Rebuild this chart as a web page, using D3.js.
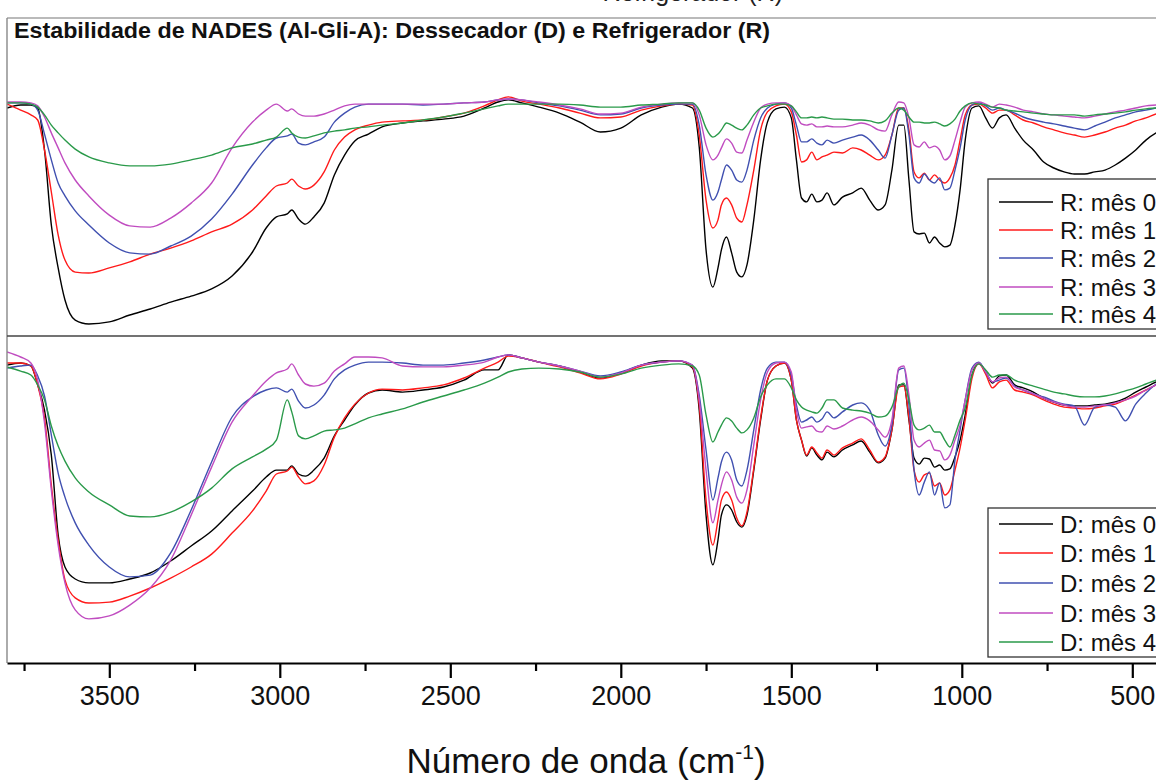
<!DOCTYPE html>
<html><head><meta charset="utf-8">
<script src="https://cdn.jsdelivr.net/npm/d3@7"></script>
<style>body{margin:0;background:#fff}svg{display:block}</style>
</head><body>
<svg id="c" width="1156" height="780"></svg>
<script>
// Wavenumber grid (cm-1)
const wavenumbers = [3800,3760,3730,3710,3690,3670,3650,3630,3600,3560,
 3500,3440,3380,3320,3260,3200,3140,3080,3040,3010,
 2978,2965,2945,2925,2900,2870,2840,2810,2780,2740,
 2700,2640,2580,2520,2460,2400,2360,2330,2290,2240,
 2180,2120,2060,2000,1940,1880,1830,1790,1770,1750,
 1730,1715,1705,1690,1675,1660,1645,1630,1610,1590,
 1570,1545,1520,1500,1485,1470,1455,1440,1425,1410,
 1395,1375,1350,1320,1295,1270,1245,1225,1205,1185,
 1170,1155,1140,1125,1110,1095,1080,1065,1050,1035,
 1020,1005,990,970,950,930,910,890,870,845,
 820,790,760,730,700,670,640,610,580,550,
 520,490,460,430,400];

// Refrigerador (top panel), transmittance (arb. %)
const R0 = [76,77,77,76,62,37,22.7,12,5.3,4,
 4.7,7,9,11.3,13.3,15.7,20,28,36,39.7,
 40.7,42,39,37.3,39.7,44.3,53.7,60.3,65,67.3,
 69.7,71,71.7,72.3,73.3,76,78,78.7,77.7,76.3,
 74.3,71.3,68,69.3,73.7,76.3,77.3,76,63,28.7,
 16.3,22.7,28.7,33,27.7,21.3,19.7,23.7,38.7,58.7,
 71.3,75.7,76.3,72.7,58.7,46,44.7,47.3,44.7,45.3,
 47.7,43.7,46.3,47.7,49.3,45.3,42,43.7,55.3,70.3,
 70.3,52,34.7,34,34.3,31,33,31,29.7,30.3,
 37,48.7,65.3,76,76.7,72.7,69.3,72.7,73.7,69.3,
 65.3,62,58,56,54.7,54,54,54.7,55.3,57,
 59.3,62,65.3,67.7,69.3];
const R1 = [77.3,75.3,73.7,72,62,48,33.7,25.3,21.3,21,
 22.7,24.7,27.3,29.3,31.7,34.7,37.3,42,46.7,50,
 51,52.3,50,49,50.3,54.7,62,66.3,68.7,70.3,
 71.3,71.7,72,73,74.3,76.7,78.7,79.7,78.3,77.3,
 76,74.3,72.7,73,75.3,76.7,77.3,77,67,45.3,
 36,38.7,43.7,46,43.7,39.3,38,43.7,55.3,68.7,
 74.7,76.7,77.3,74.7,67,58,58.7,61.3,58.7,59.7,
 60.3,61.3,61,62.7,62,60.3,58.7,60.3,67,76,
 76,68.7,54.7,52.7,54.3,52,53.7,52,51,52.7,
 57,65.3,73.7,77,77.3,76,74.3,75.3,75.3,73.7,
 72,71,69.7,68.7,67.7,67,66.3,67,68,69.3,
 70.3,71.7,72.7,74,75];
const R2 = [77.7,77.7,77.3,75.3,67.3,58.7,51,46.7,41.7,37,
 31,27.7,27.3,30,33.3,39,47.3,57,62.7,66,
 66.7,67.3,64.3,63.7,64.7,66.3,71.3,74.3,76.3,77.3,
 77.3,77.3,77,77.3,77.7,78,78.7,79,78.7,77.7,
 76.7,75.3,73.7,74,76,77,77.3,77.3,70.3,53.7,
 45.3,48,52,57,55.3,52,51.3,55.3,65.3,72.7,
 76,77.3,77.7,76,70.3,64.7,64.7,65.7,64.3,63.7,
 65.3,64.3,65.3,66.3,67,65.3,62,59.3,67,75.3,
 76,67,52.7,51,54,52,51,52.7,48.7,49.3,
 55.3,62.7,72,77,77.7,76.7,75.3,76,75.3,74.3,
 73,72,71.3,70.7,70,69.3,68.7,70,71.3,72.7,
 73.7,74.7,75.3,76,76.7];
const R3 = [78,78,77.7,76.7,73,67.7,62.7,57.7,52,46.7,
 40.3,36.7,36.3,39.3,44.3,51,62.7,71.3,75.3,77.3,
 75,75.7,74,73.3,73.3,74,75.3,76.7,77.3,77.3,
 77.3,77.3,77.3,77.3,77.7,78,78.7,79,78.7,78,
 77,75.7,74,74.3,76.3,77.3,77.7,77.7,73.7,63.7,
 58.7,60.3,62.7,65.7,64.3,61.3,61,65.3,71.3,76,
 77.3,77.7,77.7,76.7,73.7,70.7,70.3,70.7,69.7,69.7,
 70,69.7,69.7,70.3,71,70.3,68.7,68.3,73.7,78,
 77.7,72.7,63.7,63,64.7,62.7,63.3,62,58.7,60,
 65.3,71.3,76.3,77.7,78,77.3,76.3,77.3,77,76.3,
 75.3,74.7,74,73.7,73.3,73,72.7,73.3,74,74.7,
 75.3,76,76.7,77,77.3];
const R4 = [77.7,77.7,77.3,76.3,73.7,70.3,67.7,65.3,62.3,59.7,
 57.7,56.7,56.7,57.3,58.7,60.3,62.7,64,65.3,66.3,
 69.3,67.7,66.3,66,66.7,67.7,68.3,68.7,69.3,69.7,
 70.3,71,72,73,74.3,75.7,76.7,77.3,77.3,77.3,
 77.3,77,76.3,76.3,77,77.3,77.7,77.7,75.3,69.3,
 66.3,67.3,68.7,71,70.3,69.3,68.7,70.3,73.7,76,
 76.7,77.3,77.3,76.7,74.7,72.7,72.7,73,72.7,73,
 72.7,72.3,72.3,72,72,71.7,71,71.7,74.3,76,
 75.3,73,71.3,71.3,71,71,71.3,70.7,70,70.7,
 72.3,75,76.7,77.7,77.3,77,76.3,76,75.3,75,
 74.7,74.3,74,73.7,73.7,73.7,73.3,73.7,74,74.3,
 74.7,75.3,75.7,76,76.3];

// Dessecador (bottom panel)
const D0 = [99.3,100,99,92.7,84.3,69.3,42.7,32,28,26.7,
 26.7,28,30,34,39,44,50.7,57.3,62,64.3,
 64.3,65.7,63,62.3,64.3,68.3,75.7,81,86,90,
 91,90.3,91,92,94.3,97.7,97.7,102.7,101.7,100.3,
 99,97,95,96.7,99.3,100.7,100.7,98.3,84.3,49.3,
 32.7,41,49.3,52.7,51,47,45.3,49.3,64.3,81,
 94.3,99,100,94.3,81,74.3,69,71.7,69.3,67.7,
 70.3,68.7,71,72.7,74,70.3,66.7,68.3,77.7,92.7,
 92.7,81,68.3,66.3,68.3,68,65.3,66,64.3,64.7,
 68.7,74.3,82.7,96,100,97,93.3,95.7,96,92.7,
 91.7,90.3,88.3,87,86,85.7,85.7,86,86.3,87,
 88.3,90.3,92,93.7,95];
const D1 = [100,100,99,92.7,81.7,59.3,41,27.7,21.7,20,
 20.3,22.3,25,28.3,32,36.3,43.3,50.7,57.3,63,
 64,65.3,62,59.7,60.7,66,75.3,81.7,86.3,90,
 91.3,91,91.7,92.7,95,98.3,100.3,102.3,101.7,100.3,
 98.7,96.7,94.7,96.3,99,100.3,100.7,98.7,86,54.3,
 39.3,47.7,54.3,57,54.3,48.3,45.7,50.3,65,81.7,
 94.3,99,100,94.3,81,74.3,69.3,72,70,68.3,
 71,69.3,71.7,73.3,74.7,71,67,68.7,77.7,92,
 92.3,81.7,64.3,60.3,62.7,63.3,59,60,56,57.7,
 64.3,71.7,81,95,99.7,96.3,91.7,93.7,94.3,91,
 90.3,89.3,87.7,86.3,85.3,85,84.7,85,85.7,86.3,
 87.7,89.3,91,92.7,94.3];
const D2 = [98.3,99,99.3,95.7,89,76,63.3,55.3,46.7,39.3,
 32,28.7,29.3,36.7,51,67,82,88.7,91,91.7,
 90.3,91.3,87.3,85,86,89.3,94.7,97.7,99.3,100.3,
 100.3,100,99.3,99.3,100,101,102,102.7,101.7,100.3,
 99,97.3,95.7,97,99.3,100.3,100.7,99.3,89.3,71,
 54.3,61.7,67,70.3,67.7,61,59,64.3,77.7,91,
 98.3,100.3,100.3,96,86,80.3,81,82,80.3,81.3,
 83.7,81.7,83.7,86,86.7,84.3,76,72.3,79.3,97.7,
 98.3,86,64.3,56,60.3,63.7,56,60,51.7,52.7,
 67.7,77.7,87.7,98.3,100.3,97,93.7,94.3,95,92.3,
 91,89.7,88.7,87.3,86.3,85.7,79.3,85.3,86,85.3,
 80.7,86.3,90,93,95];
const D3 = [103.7,102,100,94.3,80,57.7,39.3,26.7,17.7,14.7,
 15.7,19.3,25,34.3,49.3,65.3,80.3,89,94,96.7,
 98,99.7,96,93,92.3,93.3,97.3,99.7,102,102,
 101.7,99,98.7,98.7,99.3,100.3,102,102.7,101.7,100.3,
 99,97.3,95.3,96.7,99.3,100.3,100.7,99.3,87.7,64.3,
 46.7,54.3,59.3,63.7,61,55.3,53.3,57.7,72.7,87.7,
 97,100,100.3,97,84.3,78.3,78.7,79,77.3,77,
 79,78,79,81,82,80.7,77.7,75.3,81,98.3,
 99,89.3,74.3,72,73.3,74.3,71,70.7,67.7,69.3,
 74.3,79.3,87.7,97.7,100,97,93.7,95,95.3,92,
 91,89.7,88.3,87,86,85.3,85.3,85.7,86,86.7,
 87.7,89,91,92.7,94.3];
const D4 = [98.7,97.3,96,92.7,87.7,79,72.3,67.3,61.7,57,
 52.7,49,48.7,50.3,53.7,58.3,64.7,68.7,71.3,74.3,
 87.7,83.7,75.7,74.7,75.7,77.3,77.7,78.3,79.7,81.7,
 83,84.7,87,89,91,93.3,95.3,97,98,98.3,
 98,97,95.3,96.3,98.3,99.3,99.7,99,96,82.7,
 73.7,77,79.3,81.7,80.7,78.3,76.7,77.7,81.7,88.7,
 92.7,94.7,94.7,91.7,87.7,85.3,84.3,83.7,83.3,85,
 87.7,87.7,85,84.3,84,83.3,82,82.3,85.3,92,
 93.3,87.7,79.3,77.7,78.3,79.3,77,77,74.3,72,
 76,81,85,96,99.7,97.7,95.3,96,96,94.3,
 93.3,92.3,91.3,90.3,89.7,89,88.7,88.7,89,89.7,
 90.7,91.7,93,94.3,95.7];

const xTickValues = [3500,3000,2500,2000,1500,1000,500];
const xMinorTicks = [3750,3250,2750,2250,1750,1250,750];
const rLabels = ["R: mês 0","R: mês 1","R: mês 2","R: mês 3","R: mês 4"];
const dLabels = ["D: mês 0","D: mês 1","D: mês 2","D: mês 3","D: mês 4"];
const seriesColors = ["#000000","#ff1a1a","#4050b0","#c04cc0","#2a9a4a"];
const titleText = "Estabilidade de NADES (Al-Gli-A): Dessecador (D) e Refrigerador (R)";
const captionTail = "Refrigerador (R)";

const svg = d3.select("#c");
const x = d3.scaleLinear().domain([3800,400]).range([7,1166.4]);
const yTop = d3.scaleLinear().domain([0,106]).range([336,18]);
const yBot = d3.scaleLinear().domain([0,109]).range([663,336]);

const defs = svg.append("defs");
defs.append("clipPath").attr("id","ct").append("rect").attr("x",7).attr("y",18).attr("width",1160).attr("height",318);
defs.append("clipPath").attr("id","cb").append("rect").attr("x",7).attr("y",336).attr("width",1160).attr("height",327);

function drawPanel(series, yScale, clip){
  const g = svg.append("g").attr("clip-path",`url(#${clip})`);
  series.forEach((vals,i)=>{
    const line = d3.line().x((d,j)=>x(wavenumbers[j])).y(d=>yScale(d)).curve(d3.curveMonotoneX);
    g.append("path").datum(vals).attr("d",line).attr("fill","none")
      .attr("stroke",seriesColors[i]).attr("stroke-width",1.4).attr("stroke-linejoin","round");
  });
}
drawPanel([R0,R1,R2,R3,R4], yTop, "ct");
drawPanel([D0,D1,D2,D3,D4], yBot, "cb");

// cut-off caption line at the very top
svg.append("text").attr("x",783).attr("y",1).attr("text-anchor","end")
  .attr("font-family","Liberation Sans, Arial, sans-serif").attr("font-size",25).attr("fill","#222").text(captionTail);

// frame
svg.append("line").attr("x1",7).attr("x2",1156).attr("y1",18).attr("y2",18).attr("stroke","#777").attr("stroke-width",1.2);
svg.append("line").attr("x1",7).attr("x2",7).attr("y1",18).attr("y2",663).attr("stroke","#888").attr("stroke-width",1.4);
svg.append("line").attr("x1",7).attr("x2",1156).attr("y1",336).attr("y2",336).attr("stroke","#444").attr("stroke-width",1.4);

// x axis
const ax = svg.append("g").attr("transform","translate(0,663)")
  .call(d3.axisBottom(x).tickValues(xTickValues).tickSize(15).tickSizeOuter(0).tickPadding(8).tickFormat(d3.format("d")));
ax.select(".domain").attr("stroke","#000").attr("stroke-width",2.2);
ax.selectAll(".tick line").attr("stroke","#000").attr("stroke-width",2.2);
ax.selectAll(".tick text").attr("font-family","Liberation Sans, Arial, sans-serif").attr("font-size",27).attr("fill","#111");
const axm = svg.append("g").attr("transform","translate(0,663)")
  .call(d3.axisBottom(x).tickValues(xMinorTicks).tickSize(8).tickSizeOuter(0).tickFormat(""));
axm.select(".domain").remove();
axm.selectAll(".tick line").attr("stroke","#000").attr("stroke-width",2.2);

// axis title
const xt = svg.append("text").attr("x",586).attr("y",773).attr("text-anchor","middle")
  .attr("font-family","Liberation Sans, Arial, sans-serif").attr("font-size",35).attr("fill","#111");
xt.append("tspan").text("Número de onda (cm");
xt.append("tspan").attr("dy",-14).attr("font-size",21).text("-1");
xt.append("tspan").attr("dy",14).text(")");

// title
svg.append("text").attr("x",14).attr("y",38).attr("font-family","Liberation Sans, Arial, sans-serif")
  .attr("font-weight","bold").attr("font-size",22).attr("fill","#111")
  .attr("textLength",756).attr("lengthAdjust","spacingAndGlyphs").text(titleText);

// legends
function legend(labels, top, bottom, rows){
  const g = svg.append("g");
  g.append("rect").attr("x",988).attr("y",top).attr("width",200).attr("height",bottom-top)
    .attr("fill","#fff").attr("stroke","#333").attr("stroke-width",1.3);
  labels.forEach((lab,i)=>{
    g.append("line").attr("x1",999).attr("x2",1053).attr("y1",rows[i]).attr("y2",rows[i])
      .attr("stroke",seriesColors[i]).attr("stroke-width",1.6);
    g.append("text").attr("x",1060).attr("y",rows[i]+8.5).attr("font-family","Liberation Sans, Arial, sans-serif")
      .attr("font-size",24).attr("fill","#111").text(lab);
  });
}
legend(rLabels, 179, 329, [202,230,258,287,314]);
legend(dLabels, 508, 657, [524,553,583,613,642]);
</script>
</body></html>
